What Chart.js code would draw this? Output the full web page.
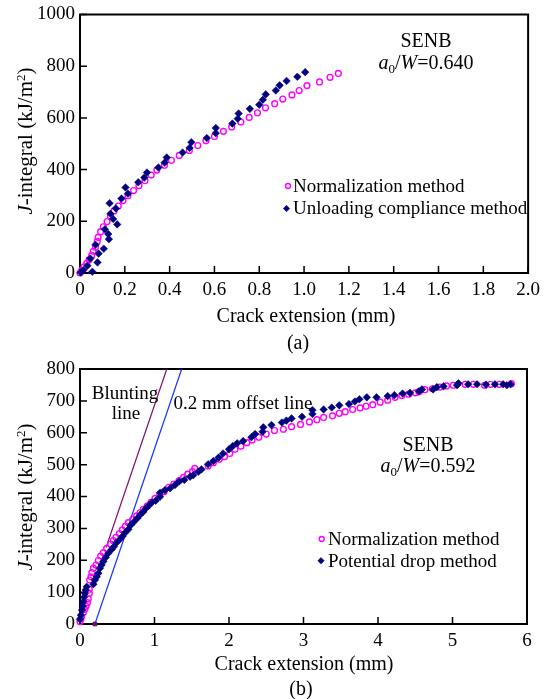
<!DOCTYPE html>
<html>
<head>
<meta charset="utf-8">
<script src="https://cdn.jsdelivr.net/npm/chart.js@4"></script>
<style>
  body { margin: 0; width: 548px; height: 699px; background: #fff; position: relative; overflow: hidden;
    font-family: "Liberation Serif", "Times New Roman", serif; color: #000; }
  canvas { position: absolute; left: 0; }
  .t { position: absolute; white-space: nowrap; font-size: 20px; line-height: 1; transform: translate(-50%, -50%); }
  .yt { font-size: 21px; transform: translate(-50%, -50%) rotate(-90deg); }
  sup { font-size: 0.62em; vertical-align: 0; position: relative; top: -0.55em; }
  sub { font-size: 0.65em; vertical-align: 0; position: relative; top: 0.3em; }
</style>
</head>
<body>
<canvas id="chartA" width="548" height="350" style="top:0"></canvas>
<canvas id="chartB" width="548" height="349" style="top:350px"></canvas>

<div class="t yt" style="left:25px;top:141px"><i>J</i>-integral (kJ/m<sup>2</sup>)</div>
<div class="t" style="left:306px;top:315px">Crack extension (mm)</div>
<div class="t" style="left:298px;top:342px">(a)</div>
<div class="t" style="left:426px;top:40px">SENB</div>
<div class="t" style="left:426px;top:62px"><i>a</i><sub>0</sub>/<i>W</i>=0.640</div>

<div class="t yt" style="left:25px;top:497px"><i>J</i>-integral (kJ/m<sup>2</sup>)</div>
<div class="t" style="left:304px;top:663px">Crack extension (mm)</div>
<div class="t" style="left:301px;top:688px">(b)</div>
<div class="t" style="left:428px;top:444px">SENB</div>
<div class="t" style="left:428px;top:465px"><i>a</i><sub>0</sub>/<i>W</i>=0.592</div>
<div class="t" style="left:125px;top:392px;font-size:19px">Blunting</div>
<div class="t" style="left:126px;top:412px;font-size:19px">line</div>
<div class="t" style="left:243px;top:402px;font-size:19px">0.2 mm offset line</div>

<script>
// (a) SENB a0/W = 0.640
const xTicksA = [0, 0.2, 0.4, 0.6, 0.8, 1.0, 1.2, 1.4, 1.6, 1.8, 2.0];
const xLabelsA = ['0', '0.2', '0.4', '0.6', '0.8', '1.0', '1.2', '1.4', '1.6', '1.8', '2.0'];
const yTicksA = [0, 200, 400, 600, 800, 1000];

const crackA_norm = [0, 0.007, 0.018, 0.03, 0.041, 0.052, 0.059, 0.069, 0.077, 0.081, 0.092, 0.104, 0.121, 0.136, 0.152,
  0.171, 0.192, 0.214, 0.239, 0.263, 0.29, 0.318, 0.343, 0.377, 0.408, 0.443, 0.488, 0.526, 0.562, 0.6,
  0.64, 0.677, 0.718, 0.755, 0.792, 0.828, 0.869, 0.905, 0.946, 0.978, 1.013, 1.069, 1.116, 1.153];
const jA_norm = [0, 9, 24, 37, 52, 68, 84, 100, 122, 138, 160, 179, 199, 220, 240,
  259, 280, 299, 319, 338, 357, 379, 398, 417, 436, 455, 474, 493, 512, 528,
  548, 565, 584, 602, 620, 639, 655, 673, 689, 706, 725, 739, 757, 772];

const crackA_unl = [0.003, 0.015, 0.033, 0.046, 0.055, 0.069, 0.078, 0.083, 0.106, 0.111, 0.126, 0.129, 0.132, 0.136, 0.148,
  0.16, 0.166, 0.185, 0.203, 0.214, 0.26, 0.287, 0.299, 0.35, 0.378, 0.387, 0.458, 0.489, 0.497, 0.566,
  0.606, 0.606, 0.68, 0.704, 0.708, 0.758, 0.8, 0.816, 0.829, 0.874, 0.891, 0.922, 0.97, 1.005];
const jA_unl = [2, 11, 28, 56, 5, 109, 41, 75, 94, 169, 151, 131, 270, 229, 209,
  250, 188, 288, 331, 307, 351, 369, 389, 408, 427, 447, 466, 484, 506, 522,
  541, 561, 578, 597, 617, 635, 651, 670, 691, 706, 726, 743, 759, 777];

// (b) SENB a0/W = 0.592
const xTicksB = [0, 1, 2, 3, 4, 5, 6];
const xLabelsB = ['0', '1', '2', '3', '4', '5', '6'];
const yTicksB = [0, 100, 200, 300, 400, 500, 600, 700, 800];

const crackB_norm = [0, 0.01, 0.02, 0.045, 0.063, 0.08, 0.1, 0.11, 0.125, 0.125, 0.13, 0.148, 0.16, 0.18, 0.215,
  0.246, 0.277, 0.313, 0.358, 0.412, 0.447, 0.483, 0.528, 0.568, 0.608, 0.649, 0.707, 0.76, 0.805, 0.85,
  0.904, 0.953, 1.007, 1.07, 1.13, 1.19, 1.26, 1.33, 1.39, 1.445, 1.51, 1.54, 1.72, 1.79, 1.87,
  1.94, 2.01, 2.08, 2.16, 2.24, 2.31, 2.4, 2.5, 2.61, 2.73, 2.84, 2.96, 3.08, 3.18, 3.27,
  3.39, 3.48, 3.56, 3.66, 3.76, 3.84, 3.93, 4.03, 4.13, 4.23, 4.32, 4.41, 4.5, 4.55, 4.63,
  4.73, 4.83, 4.92, 5.01, 5.17, 5.28, 5.43, 5.51, 5.63, 5.79];
const jB_norm = [7, 15, 23, 36, 46, 56, 67, 79, 96, 109, 138, 148, 161, 175, 185,
  199, 213, 224, 237, 251, 262, 272, 284, 295, 307, 318, 328, 339, 349, 360,
  371, 382, 394, 405, 415, 429, 439, 450, 460, 470, 478, 488, 496, 506, 517,
  525, 535, 548, 558, 569, 577, 586, 596, 607, 611, 619, 626, 634, 641, 648,
  653, 661, 666, 673, 678, 683, 688, 696, 702, 711, 717, 721, 725, 729, 735,
  738, 743, 747, 749, 752, 752, 749, 752, 752, 754];

const crackB_pd = [0, 0.013, 0.027, 0.036, 0.045, 0.054, 0.067, 0.076, 0.09, 0.18, 0.2, 0.224, 0.246, 0.268, 0.29,
  0.313, 0.345, 0.38, 0.425, 0.456, 0.49, 0.537, 0.573, 0.608, 0.649, 0.68, 0.725, 0.77, 0.805, 0.85,
  0.886, 0.917, 0.962, 1.016, 1.074, 1.074, 1.14, 1.21, 1.275, 1.33, 1.4, 1.477, 1.52, 1.59, 1.63,
  1.72, 1.79, 1.86, 1.92, 2.0, 2.05, 2.11, 2.19, 2.3, 2.35, 2.45, 2.46, 2.57, 2.71, 2.77,
  2.84, 2.98, 3.12, 3.12, 3.27, 3.38, 3.48, 3.61, 3.69, 3.75, 3.85, 3.98, 4.13, 4.22, 4.33,
  4.43, 4.55, 4.59, 4.74, 4.79, 4.88, 5.06, 5.08, 5.21, 5.33, 5.45, 5.57, 5.68, 5.73, 5.78];
const jB_pd = [15, 28, 44, 56, 70, 84, 96, 107, 117, 125, 138, 148, 159, 175, 185,
  196, 209, 222, 234, 243, 255, 266, 276, 287, 297, 310, 321, 332, 342, 352,
  363, 370, 381, 387, 399, 412, 420, 426, 436, 447, 452, 462, 467, 478, 485,
  501, 511, 522, 535, 548, 558, 567, 574, 586, 596, 603, 617, 624, 632, 638,
  645, 650, 659, 671, 673, 679, 686, 690, 698, 705, 711, 711, 715, 718, 723,
  725, 730, 736, 736, 743, 746, 749, 755, 752, 752, 751, 752, 752, 749, 752];

// blunting line and 0.2 mm offset line (visible parts)
const bluntX = [0.35, 1.165];
const bluntY = [240, 800];
const offsetX = [0.2, 1.365];
const offsetY = [0, 800];

const pts = (xs, ys) => xs.map((x, i) => ({ x, y: ys[i] }));

const FONT = '"Liberation Serif", "Times New Roman", serif';
Chart.defaults.font.family = FONT;
Chart.defaults.color = '#000';

const PINK = '#ff00ff';
const NAVY = '#000080';

// plot box + inward tick marks
const framePlugin = {
  id: 'frame',
  beforeDatasetsDraw(chart) {
    const { ctx, chartArea: a, scales: { x, y } } = chart;
    ctx.save();
    ctx.strokeStyle = '#000';
    ctx.lineWidth = 2;
    ctx.strokeRect(a.left, a.top, a.right - a.left, a.bottom - a.top);
    ctx.lineWidth = 1.5;
    ctx.beginPath();
    x.ticks.forEach(t => {
      const px = x.getPixelForValue(t.value);
      ctx.moveTo(px, a.bottom);
      ctx.lineTo(px, a.bottom - 7);
    });
    y.ticks.forEach(t => {
      const py = y.getPixelForValue(t.value);
      ctx.moveTo(a.left, py);
      ctx.lineTo(a.left + 7, py);
    });
    ctx.stroke();
    ctx.restore();
  }
};

// legend drawn inside the plot
const insideLegend = {
  id: 'insideLegend',
  afterDraw(chart, args, opts) {
    const ctx = chart.ctx;
    ctx.save();
    ctx.font = '19px ' + FONT;
    ctx.textBaseline = 'middle';
    opts.items.forEach(item => {
      const ds = chart.data.datasets[item.index];
      ctx.fillStyle = ds.pointBackgroundColor;
      ctx.strokeStyle = ds.pointBorderColor;
      ctx.lineWidth = ds.pointBorderWidth;
      Chart.helpers.drawPoint(ctx, { pointStyle: ds.pointStyle, radius: ds.pointRadius * 0.85, borderWidth: ds.pointBorderWidth, rotation: 0 }, item.mx, item.my);
      ctx.fillStyle = '#000';
      ctx.fillText(ds.label, item.tx, item.my + 1);
    });
    ctx.restore();
  }
};

function markerSet(label, data, kind) {
  const isNorm = kind === 'norm';
  return {
    label,
    data,
    order: isNorm ? 1 : 0,
    showLine: false,
    clip: false,
    pointStyle: isNorm ? 'circle' : 'rectRot',
    pointRadius: isNorm ? 2.9 : 3.8,
    pointBorderWidth: isNorm ? 1.4 : 0.5,
    pointBorderColor: isNorm ? PINK : NAVY,
    pointBackgroundColor: isNorm ? 'rgba(255,255,255,0)' : NAVY
  };
}

function makeOptions(xMax, xTicks, xLabels, yMax, yTicks, yWidth, xHeight, pad, legendItems) {
  const tickFont = { family: FONT, size: 19, lineHeight: 1 };
  return {
    responsive: false,
    animation: false,
    devicePixelRatio: 1,
    layout: { padding: pad },
    plugins: {
      legend: { display: false },
      tooltip: { enabled: false },
      insideLegend: { items: legendItems }
    },
    scales: {
      x: {
        type: 'linear', min: 0, max: xMax,
        afterBuildTicks: s => { s.ticks = xTicks.map(v => ({ value: v })); },
        afterFit: s => { s.height = xHeight; },
        ticks: { font: tickFont, color: '#000', padding: 8, maxRotation: 0, autoSkip: false,
          callback: (v, i) => xLabels[i] },
        grid: { display: false, drawTicks: false },
        border: { display: false }
      },
      y: {
        type: 'linear', min: 0, max: yMax,
        afterBuildTicks: s => { s.ticks = yTicks.map(v => ({ value: v })); },
        afterFit: s => { s.width = yWidth; },
        ticks: { font: tickFont, color: '#000', padding: 5, autoSkip: false,
          callback: v => String(v) },
        grid: { display: false, drawTicks: false },
        border: { display: false }
      }
    }
  };
}

new Chart(document.getElementById('chartA'), {
  type: 'scatter',
  data: {
    datasets: [
      markerSet('Normalization method', pts(crackA_norm, jA_norm), 'norm'),
      markerSet('Unloading compliance method', pts(crackA_unl, jA_unl), 'pd')
    ]
  },
  options: makeOptions(2, xTicksA, xLabelsA, 1000, yTicksA, 80, 77,
    { left: 0, top: 10, right: 17, bottom: 0 },
    [{ index: 0, mx: 288, my: 186, tx: 293 }, { index: 1, mx: 286.5, my: 208.5, tx: 293 }]),
  plugins: [framePlugin, insideLegend]
});

new Chart(document.getElementById('chartB'), {
  type: 'scatter',
  data: {
    datasets: [
      markerSet('Normalization method', pts(crackB_norm, jB_norm), 'norm'),
      markerSet('Potential drop method', pts(crackB_pd, jB_pd), 'pd'),
      {
        label: 'Blunting line', data: pts(bluntX, bluntY), order: 3, showLine: true,
        borderColor: '#80106e', borderWidth: 1.2, pointRadius: 0, clip: false
      },
      {
        label: '0.2 mm offset line', data: pts(offsetX, offsetY), order: 3, showLine: true,
        borderColor: '#1433ff', borderWidth: 1.2, pointRadius: 0, clip: false
      },
      {
        label: 'offset start', data: pts(offsetX.slice(0, 1), offsetY.slice(0, 1)), order: 2, showLine: false,
        pointStyle: 'rect', pointRadius: 2.6, pointBackgroundColor: '#6a1060', pointBorderColor: '#6a1060', clip: false
      }
    ]
  },
  options: makeOptions(6, xTicksB, xLabelsB, 800, yTicksB, 80, 75,
    { left: 0, top: 19, right: 21, bottom: 0 },
    [{ index: 0, mx: 321.7, my: 189, tx: 328 }, { index: 1, mx: 321, my: 210.7, tx: 328 }]),
  plugins: [framePlugin, insideLegend]
});
</script>
</body>
</html>
